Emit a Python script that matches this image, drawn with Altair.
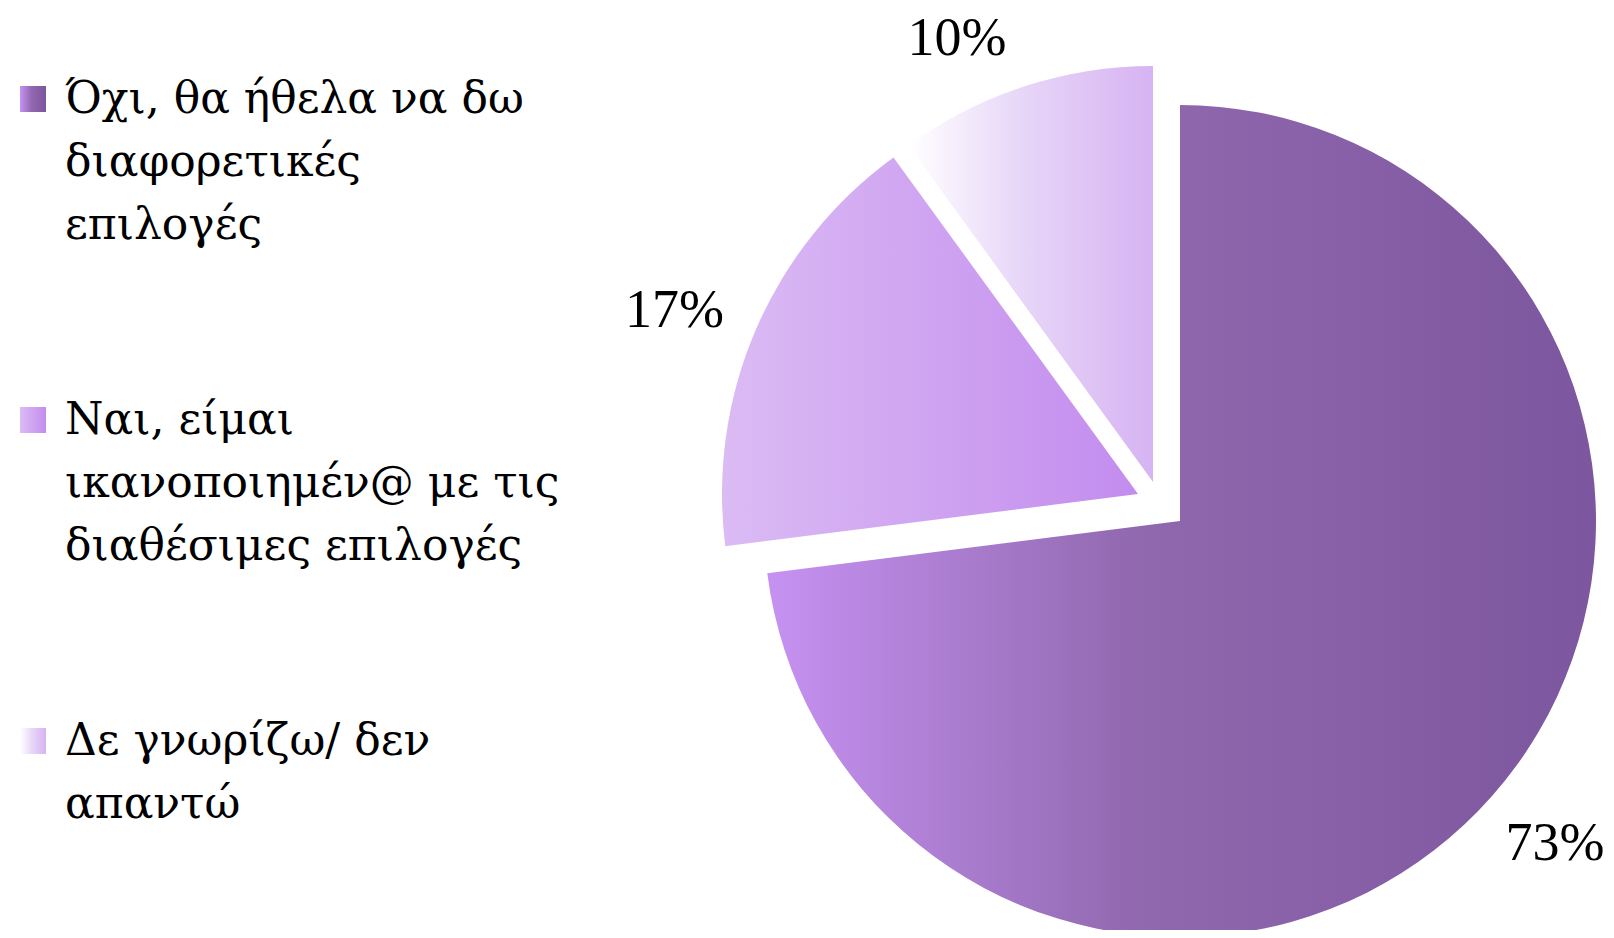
import altair as alt
import pandas as pd
import numpy as np

# ---------------- data ----------------
categories = [
    "Όχι, θα ήθελα να δω\nδιαφορετικές\nεπιλογές",
    "Ναι, είμαι\nικανοποιημέν@ με τις\nδιαθέσιμες επιλογές",
    "Δε γνωρίζω/ δεν\nαπαντώ",
]
values = [73, 17, 10]
value_labels = ["73%", "17%", "10%"]

# ---------------- layout / style ----------------
W, H = 1598, 922
CX, CY, R = 1172, 513, 416
explode = [(0, 0), (-42, -27), (-27, -39)]
LABEL_R = 492
label_nudge = [(6, -2), (-12, 12), (-44, 25)]
LEG_X, LEG_Y0, LEG_STEP, LEG_SIZE = 25, 91, 321, 26
TEXT_X, TEXT_DY = 57, 14
LEG_FONT = "DejaVu Serif"
PCT_FONT = "Liberation Serif"

gradients = [
    [("#c692f2", 0.0), ("#9068ae", 0.45), ("#7c569e", 1.0)],
    [("#dbbbf4", 0.0), ("#c38cee", 1.0)],
    [("#ffffff", 0.0), ("#e8d7f8", 0.45), ("#d6b3f2", 1.0)],
]


def grad(stops):
    return alt.LinearGradient(
        gradient="linear",
        stops=[alt.GradientStop(color=c, offset=o) for c, o in stops],
        x1=0, x2=1, y1=0, y2=0,
    )


cum = np.cumsum(values)
df = pd.DataFrame({
    "idx": list(range(len(values))),
    "cat": categories,
    "value": values,
    "vlabel": value_labels,
    "start": cum - np.array(values),
    "end": cum,
})
df["mid"] = (df["start"] + df["end"]) / 2
df["cx"] = [CX + e[0] for e in explode]
df["cy"] = [CY + e[1] for e in explode]
df["lcx"] = df["cx"] + [n[0] for n in label_nudge]
df["lcy"] = df["cy"] + [n[1] for n in label_nudge]
df["ly"] = LEG_Y0 + df["idx"] * LEG_STEP
df["lx0"] = LEG_X - LEG_SIZE / 2
df["lx1"] = LEG_X + LEG_SIZE / 2
df["ly0"] = df["ly"] - LEG_SIZE / 2
df["ly1"] = df["ly"] + LEG_SIZE / 2
df["tx"] = TEXT_X
df["ty"] = df["ly"] + TEXT_DY

theta_scale = alt.Scale(domain=[0, 100], range=[0, 2 * np.pi], nice=False, zero=False)
X = alt.X("cx:Q", scale=None, axis=None)
Y = alt.Y("cy:Q", scale=None, axis=None)

base = alt.Chart(df)
layers = []
for i in range(len(values)):
    layers.append(
        base.transform_filter(alt.datum.idx == i)
        .mark_arc(radius=R, fill=grad(gradients[i]), strokeWidth=0)
        .encode(
            theta=alt.Theta("start:Q", scale=theta_scale, stack=None),
            theta2=alt.Theta2("end:Q"),
            x=X, y=Y,
        )
    )
    layers.append(
        base.transform_filter(alt.datum.idx == i)
        .mark_rect(fill=grad(gradients[i]), strokeWidth=0)
        .encode(
            x=alt.X("lx0:Q", scale=None, axis=None), x2="lx1:Q",
            y=alt.Y("ly0:Q", scale=None, axis=None), y2="ly1:Q",
        )
    )

pct = base.mark_text(
    radius=LABEL_R, font=PCT_FONT, fontSize=54, color="#000000",
    align="center", baseline="middle",
).encode(
    theta=alt.Theta("mid:Q", scale=theta_scale, stack=None),
    x=alt.X("lcx:Q", scale=None, axis=None),
    y=alt.Y("lcy:Q", scale=None, axis=None),
    text="vlabel:N",
)

legend_text = base.mark_text(
    font=LEG_FONT, fontSize=44, color="#000000", align="left",
    baseline="alphabetic", lineBreak="\n", lineHeight=63,
).encode(
    x=alt.X("tx:Q", scale=None, axis=None),
    y=alt.Y("ty:Q", scale=None, axis=None),
    text="cat:N",
)

chart = alt.layer(*layers, pct, legend_text).properties(
    width=W, height=H, padding=0,
    autosize=alt.AutoSizeParams(type="none"),
).configure_view(stroke=None)

chart.save("out.html", embed_options={"renderer": "svg", "actions": False})
